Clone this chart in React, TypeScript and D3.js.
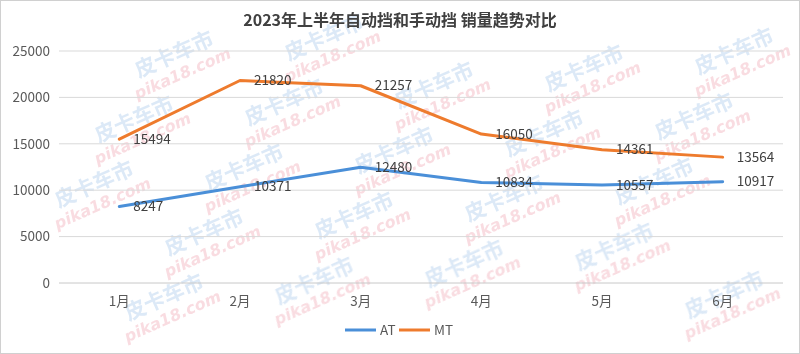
import * as d3 from 'd3';

const TITLE = '2023年上半年自动挡和手动挡 销量趋势对比';
const MONTHS = ['1月', '2月', '3月', '4月', '5月', '6月'];
const AT = [8247, 10371, 12480, 10834, 10557, 10917];
const MT = [15494, 21820, 21257, 16050, 14361, 13564];
const Y_TICKS = [0, 5000, 10000, 15000, 20000, 25000];

const W = 800;
const H = 354;
const FONT = '"Noto Sans CJK SC", "Noto Sans", sans-serif';
const TEXT = '#404040';

const SERIES = [
  { name: 'AT', values: AT, color: '#4a8fd8' },
  { name: 'MT', values: MT, color: '#ee7b2d' },
];

// watermark tiles: rough lattice, only whole ones kept
const marks: [number, number][] = [];
for (let i = -3; i < 8; i++) {
  for (let j = -2; j < 7; j++) {
    const mx = 27 + i * 150 - j * 40;
    const my = 78 - i * 17 + j * 65;
    if (mx > 58 && mx < W - 58 && my > 30 && my < H - 36) marks.push([mx, my]);
  }
}

export default function App() {
  const x = d3.scaleBand<string>().domain(MONTHS).range([59, 783]);
  const y = d3.scaleLinear().domain([0, 25000]).range([283, 51]);
  const cx = (m: string) => (x(m) ?? 0) + x.bandwidth() / 2;
  const line = d3.line<number>().x((_, i) => cx(MONTHS[i])).y((d) => y(d));

  return (
    <>
      <style>{'body{margin:0}'}</style>
      <svg width={W} height={H} viewBox={`0 0 ${W} ${H}`} style={{ display: 'block', fontFamily: FONT }}>
        <rect x={0.5} y={0.5} width={W - 1} height={H - 1} fill="#fff" stroke="#d0d0d0" />

        <g opacity={0.4} fontWeight="bold">
          {marks.map(([mx, my], k) => (
            <g key={k} transform={`translate(${mx},${my}) rotate(-24)`}>
              <text textAnchor="middle" fontSize={21} fill="#a9c8ea" y={0}>皮卡车市</text>
              <text textAnchor="middle" fontSize={16} fontStyle="italic" fill="#f0a8b4" y={19} fontFamily="'DejaVu Sans', sans-serif">pika18.com</text>
            </g>
          ))}
        </g>

        <text x={400} y={26} textAnchor="middle" fontSize={16} fontWeight="bold" fill={TEXT}>{TITLE}</text>

        {Y_TICKS.map((t) => (
          <g key={t}>
            <line x1={59} x2={783} y1={y(t)} y2={y(t)} stroke={t === 0 ? '#c8c8c8' : '#d9d9d9'} />
            <text x={50} y={y(t)} dy="0.35em" textAnchor="end" fontSize={13.5} fill="#595959">{t}</text>
          </g>
        ))}

        {MONTHS.map((m) => (
          <text key={m} x={cx(m)} y={306} textAnchor="middle" fontSize={13.5} fill="#595959">{m}</text>
        ))}

        {SERIES.map((s) => (
          <g key={s.name}>
            <path d={line(s.values) ?? ''} fill="none" stroke={s.color} strokeWidth={3} strokeLinejoin="round" strokeLinecap="round" />
            {s.values.map((v, i) => (
              <text key={i} x={cx(MONTHS[i]) + 14} y={y(v)} dy="0.35em" fontSize={13.5} fill={TEXT}>{v}</text>
            ))}
          </g>
        ))}

        {SERIES.map((s, i) => {
          const lx = 345 + i * 54;
          return (
            <g key={s.name}>
              <line x1={lx} x2={lx + 31} y1={330} y2={330} stroke={s.color} strokeWidth={3} />
              <text x={lx + 35} y={330} dy="0.35em" fontSize={13.5} fill="#595959">{s.name}</text>
            </g>
          );
        })}
      </svg>
    </>
  );
}
